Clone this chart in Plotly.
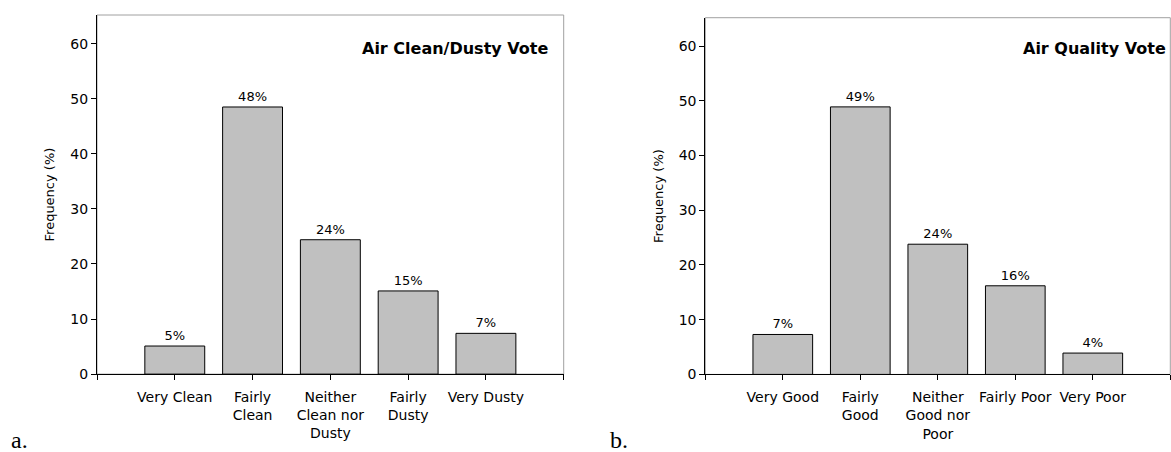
import plotly.graph_objects as go

# Panel a
cats_a = ["Very Clean", "Fairly<br>Clean", "Neither<br>Clean nor<br>Dusty", "Fairly<br>Dusty", "Very Dusty"]
vals_a = [5.1, 48.5, 24.4, 15.1, 7.4]
labels_a = ["5%", "48%", "24%", "15%", "7%"]
title_a = "Air Clean/Dusty Vote"

# Panel b
cats_b = ["Very Good", "Fairly<br>Good", "Neither<br>Good nor<br>Poor", "Fairly Poor", "Very Poor"]
vals_b = [7.3, 48.9, 23.8, 16.2, 3.9]
labels_b = ["7%", "49%", "24%", "16%", "4%"]
title_b = "Air Quality Vote"

y_ticks = [0, 10, 20, 30, 40, 50, 60]
y_title = "Frequency (%)"

W, H = 1171, 452
SY = 0.982  # observed vertical scale of the photographed page
FONT = "DejaVu Sans"

fig = go.Figure()
pos = [1, 2, 3, 4, 5]

for vals, labels, xa, ya in [(vals_a, labels_a, "x", "y"), (vals_b, labels_b, "x2", "y2")]:
    fig.add_trace(go.Bar(
        x=pos, y=vals, text=labels, textposition="outside",
        textfont=dict(family=FONT, size=13, color="black"),
        cliponaxis=False,
        marker=dict(color="#c0c0c0", line=dict(color="black", width=1)),
        width=0.77, xaxis=xa, yaxis=ya, showlegend=False, hoverinfo="skip",
    ))

def px_x(v):
    return v / W

def px_y(v):
    return 1 - (v / SY) / H

dom_a = [px_x(97), px_x(563.7)]
dom_b = [px_x(705.3), px_x(1170.3)]
ydom_a = [px_y(374), px_y(15)]
ydom_b = [px_y(374.3), px_y(17.7)]

xcommon = dict(range=[0, 6], tickvals=[0, 1, 2, 3, 4, 5, 6], showgrid=False, zeroline=False,
               showline=True, linecolor="black", linewidth=1, ticks="outside", ticklen=5,
               tickcolor="black", tickfont=dict(family=FONT, size=14, color="black"),
               ticklabelstandoff=5, fixedrange=True)
ycommon = dict(range=[0, 65.2], tickvals=y_ticks, showgrid=False, zeroline=False,
               showline=True, linecolor="black", linewidth=1, ticks="outside", ticklen=5,
               tickcolor="black", tickfont=dict(family=FONT, size=14, color="black"),
               title=dict(text=y_title, font=dict(family=FONT, size=13, color="black"), standoff=12),
               fixedrange=True)

fig.update_layout(
    width=W, height=H,
    margin=dict(l=0, r=0, t=0, b=0),
    paper_bgcolor="white", plot_bgcolor="white",
    xaxis=dict(domain=dom_a, anchor="y", ticktext=[""] + cats_a + [""], **xcommon),
    yaxis=dict(domain=ydom_a, anchor="x", **ycommon),
    xaxis2=dict(domain=dom_b, anchor="y2", ticktext=[""] + cats_b + [""], **xcommon),
    yaxis2=dict(domain=ydom_b, anchor="x2", **ycommon),
    shapes=[
        dict(type="rect", xref="x domain", yref="y domain", x0=0, x1=1, y0=0, y1=1,
             line=dict(color="#a0a0a0", width=1), layer="below"),
        dict(type="rect", xref="x2 domain", yref="y2 domain", x0=0, x1=1, y0=0, y1=1,
             line=dict(color="#a0a0a0", width=1), layer="below"),
    ],
    annotations=[
        dict(text="<b>" + title_a + "</b>", xref="paper", yref="paper", x=px_x(550), y=px_y(48),
             showarrow=False, font=dict(family=FONT, size=16, color="black"),
             xanchor="right", yanchor="middle"),
        dict(text="<b>" + title_b + "</b>", xref="paper", yref="paper", x=px_x(1167.5), y=px_y(48),
             showarrow=False, font=dict(family=FONT, size=16, color="black"),
             xanchor="right", yanchor="middle"),
        dict(text="a.", xref="paper", yref="paper", x=px_x(9), y=px_y(440),
             showarrow=False, font=dict(family="Liberation Serif", size=24, color="black"),
             xanchor="left", yanchor="middle"),
        dict(text="b.", xref="paper", yref="paper", x=px_x(608), y=px_y(440),
             showarrow=False, font=dict(family="Liberation Serif", size=24, color="black"),
             xanchor="left", yanchor="middle"),
    ],
)

fig.write_html(
    "out.html",
    config={"displayModeBar": False, "staticPlot": True},
    post_script=(
        "document.documentElement.style.margin='0';"
        "document.documentElement.style.overflow='hidden';"
        "document.body.style.margin='0';document.body.style.padding='0';"
        "document.body.style.overflow='hidden';"
    ),
)
